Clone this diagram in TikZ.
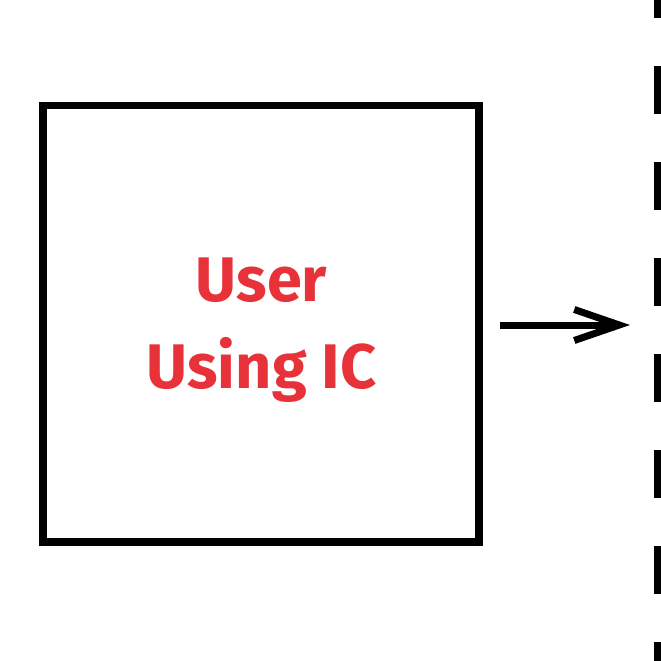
\documentclass[tikz,border=0pt]{standalone}
\usepackage{fontspec}
\setmainfont{Fira Sans}
\usetikzlibrary{arrows.meta}
\definecolor{icred}{RGB}{232,50,58}
\tikzset{
  userbox/.style={draw=black, line width=7.5pt, rectangle, inner sep=0pt,
    minimum width=436pt, minimum height=436.5pt},
  usertext/.style={align=center, inner sep=0pt, text=icred,
    font=\fontsize{63}{87}\selectfont\bfseries},
  flowarrow/.style={line width=7pt, -{Straight Barb[length=45pt,width=31pt]}},
  boundary/.style={line width=8pt, dash pattern=on 48pt off 48pt}
}
\begin{document}
\begin{tikzpicture}[x=1pt,y=-1pt]
\useasboundingbox (0,0) rectangle (661,661);
\clip (0,0) rectangle (661,661);
\node[userbox] (user) at (261,323.75) {};
\node[usertext] (label) at (261.5,330.5) {User\\Using IC};
\coordinate (astart) at (500,325);
\coordinate (aend) at (630,325);
\draw[flowarrow] (astart) -- (aend);
\coordinate (ltop) at (658,-30);
\coordinate (lbot) at (658,700);
\draw[boundary] (ltop) -- (lbot);
\end{tikzpicture}
\end{document}
